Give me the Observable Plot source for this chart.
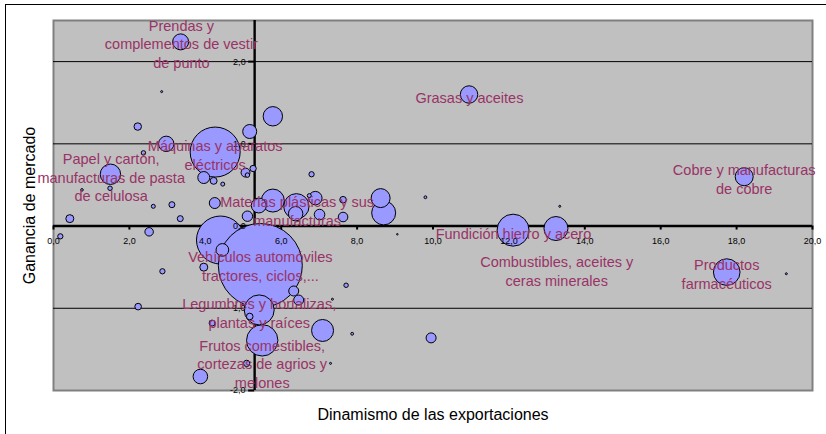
<!DOCTYPE html>
<html>
<head>
<meta charset="utf-8">
<script src="https://cdn.jsdelivr.net/npm/d3@7"></script>
<script src="https://cdn.jsdelivr.net/npm/@observablehq/plot@0.6"></script>
<style>
  html, body { margin: 0; padding: 0; background: #fff; overflow: hidden; }
  #wrap { position: relative; width: 826px; height: 434px; overflow: hidden; }
  #outer { position: absolute; left: 5px; top: 4px; width: 900px; height: 500px; border: 1.5px solid #000; }
  #chart { position: absolute; left: 0; top: 0; }
</style>
</head>
<body>
<div id="wrap"><div id="outer"></div><div id="chart"></div></div>
<script>
// Bubble data (drawing order): dynamism of exports (x), market gain (y), weight (bubble area)
const dinamismo = [4.40, 5.45, 4.26, 12.11, 5.50, 5.42, 17.74, 6.40, 8.70, 13.24, 5.78, 7.09, 1.50, 5.78, 8.62, 18.20, 10.95, 3.35, 2.97, 5.41, 3.87, 6.38, 5.17, 6.90, 4.45, 3.96, 4.25, 7.01, 5.11, 6.33, 6.46, 9.95, 7.63, 5.06, 2.52, 0.43, 3.96, 2.22, 4.22, 7.63, 2.23, 5.17, 5.26, 5.09, 3.12, 3.34, 4.18, 6.80, 0.18, 2.87, 2.37, 1.49, 5.11, 7.71, 4.46, 2.63, 6.74, 9.80, 7.87, 0.75, 2.85, 7.30, 7.35, 19.31, 13.34, 9.06];
const ganancia  = [-0.17, -0.48, 0.90, -0.05, -1.39, -1.02, -0.56, 0.24, 0.16, -0.03, 0.31, -1.27, 0.63, 1.335, 0.34, 0.60, 1.60, 2.24, 1.00, 0.25, -1.83, 0.15, 1.15, 0.34, -0.29, 0.59, 0.28, 0.14, 0.12, -0.79, -0.90, -1.36, 0.11, 0.65, -0.07, 0.09, -0.50, 1.21, 0.55, 0.32, -0.98, -1.10, 0.70, -1.67, 0.26, 0.09, -1.18, 0.63, -0.125, -0.55, 0.89, 0.46, 0.62, -0.72, 0.51, 0.24, 0.37, 0.35, -1.31, 0.44, 1.635, -1.67, -0.89, -0.58, 0.24, -0.10];
const peso      = [57.6, 176.4, 62.5, 25.6, 24.6, 22.5, 17.7, 16.1, 14.4, 14.4, 13.2, 12.1, 10.4, 9.4, 9.0, 8.1, 7.6, 6.4, 5.9, 5.6, 5.3, 5.2, 4.9, 4.5, 4.0, 3.6, 3.0, 2.8, 2.7, 2.5, 2.5, 2.5, 2.3, 2.0, 1.8, 1.6, 1.6, 1.4, 1.2, 1.1, 1.1, 1.1, 1.0, 1.0, 0.9, 0.9, 0.9, 0.7, 0.7, 0.7, 0.5, 0.5, 0.5, 0.5, 0.4, 0.4, 0.4, 0.2, 0.2, 0.17, 0.1, 0.1, 0.1, 0.1, 0.1, 0.06];

// Category labels and where they sit (data coordinates)
const etiquetas = [
  "Prendas y\ncomplementos de vestir\nde punto",
  "Grasas y aceites",
  "Máquinas y aparatos\neléctricos",
  "Papel y cartón,\nmanufacturas de pasta\nde celulosa",
  "Cobre y manufacturas\nde cobre",
  "Materias plásticas y sus\nmanufacturas",
  "Fundición hierro y acero",
  "Vehículos automóviles\ntractores, ciclos,...",
  "Combustibles, aceites y\nceras minerales",
  "Productos\nfarmacéuticos",
  "Legumbres y hortalizas,\nplantas y raíces",
  "Frutos comestibles,\ncortezas de agrios y\nmelones"
];
const etiquetaX = [3.37, 10.96, 4.26, 1.52, 18.20, 6.42, 12.12, 5.45, 13.26, 17.74, 5.42, 5.50];
const etiquetaY = [2.22, 1.57, 0.87, 0.60, 0.58, 0.19, -0.08, -0.48, -0.54, -0.58, -1.05, -1.67];

// Axes
const xTicks = [0, 2, 4, 6, 8, 10, 12, 14, 16, 18, 20];
const yTicks = [2, 1, 0, -1, -2];
const gridY = [2, 1, -1];
const cruceEjeY = 5.3;   // x value where the vertical axis crosses
const tituloX = "Dinamismo de las exportaciones";
const tituloY = "Ganancia de mercado";

const bubbles = dinamismo.map((d, i) => ({x: d, y: ganancia[i], w: peso[i]}));
const labels = etiquetas.map((t, i) => ({t, x: etiquetaX[i], y: etiquetaY[i]}));
const fmt = v => v.toFixed(1).replace(".", ",");
const font = "Arial, 'Liberation Sans', sans-serif";

const chart = Plot.plot({
  width: 826,
  height: 434,
  marginLeft: 53,
  marginRight: 14,
  marginTop: 20,
  marginBottom: 44,
  style: {fontFamily: font, background: "transparent"},
  x: {domain: [0, 20], axis: null},
  y: {domain: [-2, 2.5], axis: null},
  r: {type: "sqrt", domain: [0, 176.4], range: [0, 42]},
  marks: [
    Plot.frame({fill: "#C0C0C0", stroke: "#808080", strokeWidth: 2}),
    Plot.ruleY(gridY, {stroke: "#000", strokeWidth: 1}),
    Plot.ruleY([0], {stroke: "#000", strokeWidth: 2.4}),
    Plot.ruleX([cruceEjeY], {stroke: "#000", strokeWidth: 2.4}),
    Plot.ruleX(xTicks, {x: d => d, y1: 0, y2: 0, insetBottom: -4, stroke: "#000", strokeWidth: 2}),
    Plot.ruleY(yTicks, {y: d => d, x1: cruceEjeY, x2: cruceEjeY, insetLeft: -6, stroke: "#000", strokeWidth: 2}),
    Plot.dot(bubbles, {x: "x", y: "y", r: "w", fill: "#9999FF", fillOpacity: 1, stroke: "#000", strokeWidth: 1, sort: null}),
    Plot.text(xTicks, {x: d => d, y: 0, text: fmt, dy: 15, fontSize: 9, fill: "#000", lineAnchor: "middle"}),
    Plot.text(yTicks, {x: cruceEjeY, y: d => d, text: fmt, dx: -9, textAnchor: "end", fontSize: 9, fill: "#000", lineAnchor: "middle"}),
    Plot.text(labels, {x: "x", y: "y", text: "t", fontSize: 14.5, lineHeight: 1.28, fill: "#993366", lineAnchor: "middle"}),
    Plot.text([tituloX], {frameAnchor: "bottom", dy: 24, fontSize: 16, fill: "#000", textAnchor: "middle", lineAnchor: "middle"}),
    Plot.text([tituloY], {frameAnchor: "left", dx: -24, rotate: -90, fontSize: 16, fill: "#000", textAnchor: "middle", lineAnchor: "middle"})
  ]
});
document.getElementById("chart").appendChild(chart);
</script>
</body>
</html>
